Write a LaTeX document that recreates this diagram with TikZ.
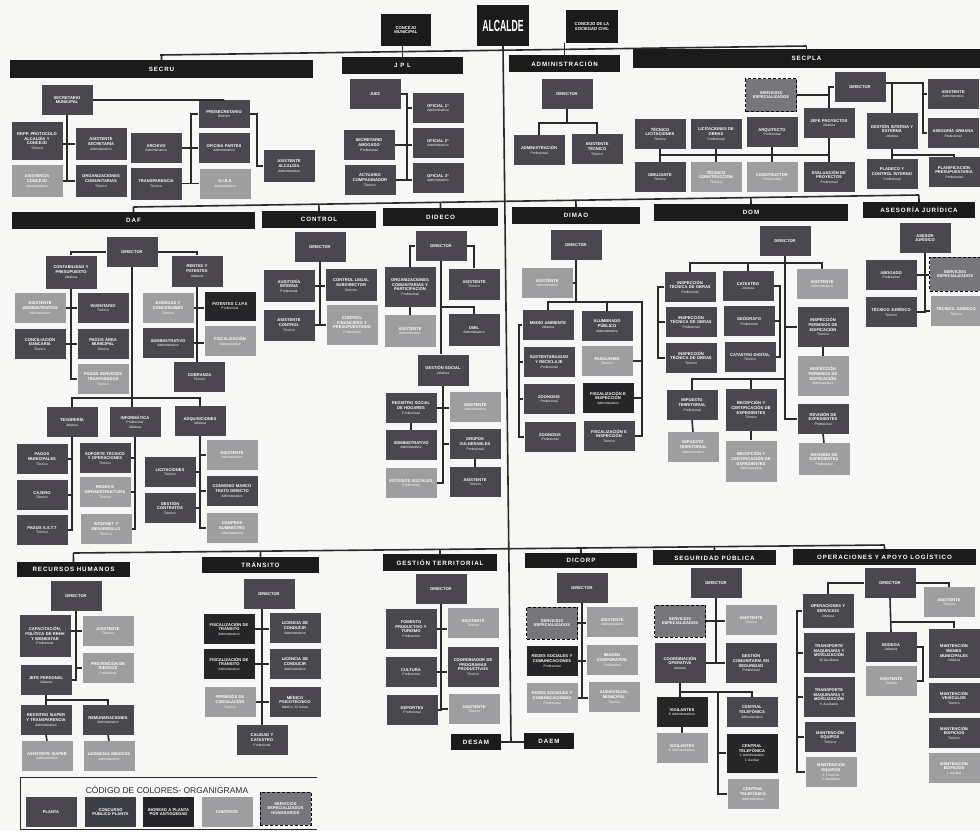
\documentclass[tikz,border=0pt]{standalone}
\usepackage{fontspec}
\setmainfont{Liberation Sans}
\newfontfamily\hdrff[LetterSpace=15]{Liberation Sans}
\usetikzlibrary{calc}
\newcommand{\unitfont}{\fontsize{4.1}{4.7}\selectfont\bfseries}
\newcommand{\rolefont}{\fontsize{3.4}{4.0}\selectfont\mdseries}
\newcommand{\rl}[1]{\\{\rolefont #1}}
\newcommand{\hdrfont}{\hdrff\fontsize{6.2}{6.2}\selectfont\bfseries}
\newcommand{\topfont}{\fontsize{4.2}{4.8}\selectfont\bfseries}
\begin{document}
\begin{tikzpicture}[x=1pt, y=-1pt,
    link/.style={draw=lineC, line width=1.6pt},
    unit/.style={text=white, font=\unitfont, align=center, text width=48, inner sep=1.5, minimum height=30},
    planta/.style={unit, fill=plantaC},
    contrata/.style={unit, fill=contrataC},
    antig/.style={unit, fill=antigC},
    concurso/.style={unit, fill=concursoC},
    honor/.style={unit, fill=honorC, draw=black, densely dashed, line width=0.8pt},
    head/.style={fill=headC, text=white, font=\hdrfont, inner sep=0},
    topbox/.style={fill=headC, text=white, font=\topfont, align=center, inner sep=0}]
    \definecolor{bgC}{HTML}{F7F7F5}
    \definecolor{lineC}{HTML}{2A2A2A}
    \definecolor{headC}{HTML}{1B1B1B}
    \definecolor{plantaC}{HTML}{4A484E}
    \definecolor{contrataC}{HTML}{9E9EA0}
    \definecolor{antigC}{HTML}{262628}
    \definecolor{concursoC}{HTML}{3D3D44}
    \definecolor{honorC}{HTML}{77777B}

    \useasboundingbox (0,0) rectangle (980,831);
    \fill[bgC] (0,0) rectangle (980,831);

    % Top: alcalde and concejos
    \node[topbox, minimum width=52, minimum height=41, font=\bfseries\fontsize{14}{14}\selectfont] (alc) at (503,25.5) {\scalebox{0.62}[1.15]{ALCALDE}};
    \node[topbox, minimum width=50, minimum height=32] (concMun) at (406,30) {CONCEJO\\MUNICIPAL};
    \node[topbox, minimum width=52, minimum height=33] (concSoc) at (592,26.5) {CONCEJO DE LA\\SOCIEDAD CIVIL};

    % Row 1 headers
    \node[head, minimum width=303, minimum height=18] (secruH) at (161.5,69) {SECRU};
    \node[head, minimum width=121, minimum height=17] (jplH) at (402.5,65.5) {J P L};
    \node[head, minimum width=111, minimum height=17] (admH) at (564.5,63.5) {ADMINISTRACIÓN};
    \node[head, minimum width=347, minimum height=19] (secplaH) at (806.5,58.5) {SECPLA};

    % Row 2 headers
    \node[head, minimum width=243, minimum height=17] (dafH) at (133.5,220.5) {DAF};
    \node[head, minimum width=114, minimum height=17] (ctH) at (319,219.5) {CONTROL};
    \node[head, minimum width=115, minimum height=18] (ddH) at (440.5,217) {DIDECO};
    \node[head, minimum width=128, minimum height=17] (dmH) at (576,215.5) {DIMAO};
    \node[head, minimum width=194, minimum height=17] (doH) at (751,212.5) {DOM};
    \node[head, minimum width=112, minimum height=16] (ajH) at (919,210) {ASESORÍA JURÍDICA};

    % Row 3 headers
    \node[head, minimum width=113, minimum height=15] (rhH) at (73.5,569.5) {RECURSOS HUMANOS};
    \node[head, minimum width=117, minimum height=16] (trH) at (260.5,565) {TRÁNSITO};
    \node[head, minimum width=114, minimum height=17] (gtH) at (440,562.5) {GESTIÓN TERRITORIAL};
    \node[head, minimum width=112, minimum height=15] (dcH) at (581,560.5) {DICORP};
    \node[head, minimum width=123, minimum height=15] (sgH) at (714.5,557.5) {SEGURIDAD PÚBLICA};
    \node[head, minimum width=183, minimum height=16] (opH) at (884.5,557) {OPERACIONES Y APOYO LOGÍSTICO};

    % Main lines
    \coordinate (mainEnd) at (511,742);
    \coordinate (busAL) at (160,55);
    \coordinate (busAR) at (806.5,46);
    \coordinate (busBL) at (133.5,207);
    \coordinate (busBR) at (919,195);
    \coordinate (busCL) at (73.5,553);
    \coordinate (busCR) at (884.5,545);
    \draw[link] (alc.south) -- (mainEnd);
    \draw[link] (busAL) -- (busAR);
    \draw[link] (busBL) -- (busBR);
    \draw[link] (busCL) -- (busCR);
    \draw[link] (secruH.north) -- ($(busAL)!(secruH.north)!(busAR)$);
    \draw[link] (jplH.north) -- (jplH.north |- concMun.south);
    \draw[link] (admH.north) -- (admH.north |- concSoc.south);
    \draw[link] (secplaH.north) -- (busAR);
    \foreach \h in {dafH,ctH,ddH,dmH,doH,ajH}
        \draw[link] (\h.north) -- ($(busBL)!(\h.north)!(busBR)$);
    \foreach \h in {rhH,trH,gtH,dcH,sgH,opH}
        \draw[link] (\h.north) -- ($(busCL)!(\h.north)!(busCR)$);

    % SECRU
    \node[planta] (sm) at (67,100) {SECRETARIO\\MUNICIPAL};
    \node[planta, minimum height=38] (rrpp) at (37,141) {RRPP. PROTOCOLO\\ALCALDÍA Y\\CONCEJO\rl{Técnico}};
    \node[planta, minimum height=32] (asec) at (101,144) {ASISTENTE\\SECRETARÍA\rl{Administrativo}};
    \node[contrata, minimum height=32] (acon) at (37,181) {ASISTENCIA\\CONCEJO\rl{Administrativo}};
    \node[planta, minimum height=32] (orgc) at (101,181) {ORGANIZACIONES\\COMUNITARIAS\rl{Técnico}};
    \node[planta] (arch) at (156,148) {ARCHIVO\rl{Administrativo}};
    \node[planta, minimum height=32] (transp) at (156,183.5) {TRANSPARENCIA\rl{Técnico}};
    \node[planta, minimum height=28] (pros) at (224,114) {PROSECRETARIO\rl{Director}};
    \node[planta] (ofp) at (224,148) {OFICINA PARTES\rl{Administrativo}};
    \node[contrata] (oirs) at (225,183.5) {O.I.R.S\rl{Administrativo}};
    \node[planta, minimum height=32] (asal) at (289,166) {ASISTENTE\\ALCALDÍA\rl{Administrativo}};
    \coordinate (prosBus) at (191,114);
    \coordinate (asalBus) at (257,114);
    \draw[link] (sm.east) -| (pros.north);
    \draw[link] (sm.south) -- (sm.south |- acon.east);
    \draw[link] (rrpp.east |- asec.west) -- (asec.west);
    \draw[link] (acon.east) -- (orgc.west);
    \draw[link] (pros.west) -- (prosBus) -- (prosBus |- transp.east);
    \draw[link] (arch.east) -- (ofp.west);
    \draw[link] (transp.east) -- (oirs.west);
    \draw[link] (pros.east) -| (asalBus |- asal.west) -- (asal.west);

    % JPL
    \node[planta] (juez) at (375,94) {JUEZ};
    \node[planta] (of1) at (438,108) {OFICIAL 1º\rl{Administrativo}};
    \node[planta] (of2) at (438,143) {OFICIAL 2º\rl{Administrativo}};
    \node[planta] (of3) at (438,178) {OFICIAL 3º\rl{Administrativo}};
    \node[planta] (secab) at (369,145) {SECRETARIO\\ABOGADO\rl{Profesional}};
    \node[planta] (actu) at (370,180) {ACTUARIO\\COMPAGINADOR\rl{Técnico}};
    \coordinate (jplBus) at (407,94);
    \draw[link] (juez.east) -- (jplBus) -- (jplBus |- actu.east);
    \draw[link] (jplBus |- of1.west) -- (of1.west);
    \draw[link] (secab.east) -- (secab.east -| of2.west);
    \draw[link] (actu.east) -- (actu.east -| of3.west);

    % ADMINISTRACION
    \node[planta] (admDir) at (567,94) {DIRECTOR};
    \node[planta] (admAd) at (539,150) {ADMINISTRACIÓN\rl{Profesional}};
    \node[planta] (admAs) at (597,149) {ASISTENTE\\TÉCNICO\rl{Técnico}};
    \draw[link] (admDir.south) -- ++(0,14) -| (admAd.north);
    \draw[link] (admDir.south) ++(0,14) -| (admAs.north);

    % SECPLA
    \node[planta] (spDir) at (860,87) {DIRECTOR};
    \node[honor, minimum height=33] (spSe) at (771,95) {SERVICIOS\\ESPECIALIZADOS};
    \node[planta] (spAsi) at (953,94) {ASISTENTE\rl{Administrativo}};
    \node[planta] (spAu) at (953,133) {ASESORÍA URBANA\rl{Profesional}};
    \node[planta] (spJp) at (829,123) {JEFE PROYECTOS\rl{Jefatura}};
    \node[planta, minimum height=36] (spGi) at (892,131) {GESTIÓN INTERNA Y\\EXTERNA\rl{Jefatura}};
    \node[planta] (spTl) at (660,134) {TÉCNICO\\LICITACIONES\rl{Técnico}};
    \node[planta] (spLo) at (716,134) {LICITACIONES DE\\OBRAS\rl{Profesional}};
    \node[planta] (spAr) at (772,132) {ARQUITECTO\rl{Profesional}};
    \node[planta] (spDi) at (660,177) {DIBUJANTE\rl{Técnico}};
    \node[contrata] (spTc) at (716,177) {TÉCNICO\\CONSTRUCCIÓN\rl{Técnico}};
    \node[contrata] (spCo) at (772,177) {CONSTRUCTOR\rl{Profesional}};
    \node[planta] (spEv) at (829,177) {EVALUACIÓN DE\\PROYECTOS\rl{Profesional}};
    \node[planta] (spPl) at (892,174) {PLADECO Y\\CONTROL INTERNO\rl{Profesional}};
    \node[planta] (spPp) at (954,172) {PLANIFICACIÓN\\PRESUPUESTARIA\rl{Profesional}};
    \coordinate (spBus) at (0,155);
    \coordinate (spRv) at (923,83);
    \draw[link] (spDir.west) -| (spJp.north);
    \draw[link] (spSe.east) -- (spSe.east -| spJp.north);
    \draw[link] (spDi.north |- spBus) -- (spEv.north |- spBus);
    \draw[link] (spTl.south) -- (spDi.north);
    \draw[link] (spLo.south) -- (spTc.north);
    \draw[link] (spAr.south) -- (spCo.north);
    \draw[link] (spJp.south) -- (spEv.north);
    \draw[link] (spDir.east |- spRv) -- (spRv) -- (spRv |- spAu.west) -- (spAu.west);
    \draw[link] (spRv |- spAsi.west) -- (spAsi.west);
    \draw[link] (spGi.north |- spRv) -- (spGi.north);
    \draw[link] (spGi.south) -- (spPl.north);
    \draw[link] (spPl.north |- spBus) -| (spPp.north);

    % DAF
    \node[planta] (dafDir) at (132,252) {DIRECTOR};
    \node[planta, minimum height=33] (dafCp) at (71,272) {CONTABILIDAD Y\\PRESUPUESTO\rl{Jefatura}};
    \node[planta, minimum height=31] (dafRp) at (197,271) {RENTAS Y\\PATENTES\rl{Jefatura}};
    \node[contrata] (dafAa) at (40,308) {ASISTENTE\\ADMINISTRATIVO\rl{Administrativo}};
    \node[planta] (dafIn) at (103,308) {INVENTARIO\rl{Técnico}};
    \node[planta] (dafCb) at (40,344) {CONCILIACIÓN\\BANCARIA\rl{Técnico}};
    \node[planta] (dafPm) at (103,344) {PAGOS ÁREA\\MUNICIPAL\rl{Técnico}};
    \node[contrata] (dafPs) at (103,379) {PAGOS SERVICIOS\\TRASPASADOS\rl{Técnico}};
    \node[contrata] (dafBc) at (168,308) {BODEGAS Y\\CONCESIONES\rl{Técnico}};
    \node[antig, minimum height=29] (dafPc) at (230,306) {PATENTES C.I.P.A\rl{Profesional}};
    \node[planta] (dafAd) at (168,343) {ADMINISTRATIVO\rl{Administrativo}};
    \node[contrata] (dafFi) at (230,341) {FISCALIZACIÓN\rl{Administrativo}};
    \node[planta] (dafCo) at (199.5,377) {COBRANZA\rl{Técnico}};
    \node[planta] (dafTe) at (72,422) {TESORERÍA\rl{Jefatura}};
    \node[planta] (dafIf) at (135,422) {INFORMÁTICA\rl{Profesional}\rl{Jefatura}};
    \node[planta] (dafAq) at (200,421) {ADQUISICIONES\rl{Jefatura}};
    \node[planta] (dafPg) at (42,459) {PAGOS\\MUNICIPALES\rl{Técnico}};
    \node[planta] (dafCa) at (42,495) {CAJERO\rl{Técnico}};
    \node[planta] (dafPt) at (42,530) {PAGOS S.S.T.T\rl{Técnico}};
    \node[planta] (dafSo) at (105,458) {SOPORTE TÉCNICO\\Y OPERACIONES\rl{Técnico}};
    \node[contrata] (dafRe) at (105,492) {REDES E\\INFRAESTRUCTURA\rl{Técnico}};
    \node[contrata] (dafId) at (106,529) {INTERNET Y\\DESARROLLO\rl{Técnico}};
    \node[planta] (dafLi) at (170,472) {LICITACIONES\rl{Técnico}};
    \node[planta] (dafGc) at (170,508) {GESTIÓN\\CONTRATOS\rl{Técnico}};
    \node[contrata] (dafAs) at (232,455) {ASISTENTE\rl{Administrativo}};
    \node[planta] (dafCm) at (232,491) {CONVENIO MARCO\\TRATO DIRECTO\rl{Administrativo}};
    \node[contrata] (dafCs) at (232,528) {COMPRAS\\SUMINISTRO\rl{Administrativo}};
    \coordinate (dafBus) at (0,398);
    \draw[link] (dafDir.west) -| (dafCp.north);
    \draw[link] (dafDir.east) -| (dafRp.north);
    \draw[link] (dafCp.south) -- (dafCp.south |- dafPs.west) -- (dafPs.west);
    \draw[link] (dafAa.east) -- (dafIn.west);
    \draw[link] (dafCb.east) -- (dafPm.west);
    \draw[link] (dafRp.south) -- (dafRp.south |- dafCo.north);
    \draw[link] (dafBc.east) -- (dafBc.east -| dafPc.west);
    \draw[link] (dafAd.east) -- (dafAd.east -| dafFi.west);
    \draw[link] (dafDir.south) -- (dafDir.south |- dafIf.north);
    \draw[link] (dafTe.north) |- (dafDir.south |- dafBus) -| (dafAq.north);
    \draw[link] (dafTe.south) |- (dafPt.east);
    \draw[link] (dafPg.east) -- (dafPg.east -| dafTe.south);
    \draw[link] (dafCa.east) -- (dafCa.east -| dafTe.south);
    \draw[link] (dafIf.south) |- (dafId.east);
    \draw[link] (dafSo.east) -- (dafSo.east -| dafIf.south);
    \draw[link] (dafRe.east) -- (dafRe.east -| dafIf.south);
    \draw[link] (dafAq.south) -- (dafAq.south |- dafCs.west) -- (dafCs.west);
    \draw[link] (dafLi.east) -- (dafLi.east -| dafAq.south);
    \draw[link] (dafGc.east) -- (dafGc.east -| dafAq.south);
    \draw[link] (dafAq.south |- dafAs.west) -- (dafAs.west);
    \draw[link] (dafAq.south |- dafCm.west) -- (dafCm.west);

    % CONTROL
    \node[planta] (ctDir) at (320,247) {DIRECTOR};
    \node[planta, minimum height=32] (ctAi) at (289,286) {AUDITORÍA\\INTERNA\rl{Profesional}};
    \node[planta, minimum height=32] (ctCl) at (351,285) {CONTROL LEGAL\\SUBDIRECTOR\rl{Director}};
    \node[planta, minimum height=31] (ctAc) at (289,325) {ASISTENTE\\CONTROL\rl{Técnico}};
    \node[contrata, minimum height=40] (ctCf) at (352,325) {CONTROL\\FINANCIERO Y\\PRESUPUESTARIO\rl{Profesional}};
    \draw[link] (ctDir.south) -- (ctDir.south |- ctAc.east);
    \draw[link] (ctAi.east) -- (ctAi.east -| ctCl.west);
    \draw[link] (ctAc.east) -- (ctCf.west);

    % DIDECO
    \node[planta] (ddDir) at (441,246) {DIRECTOR};
    \node[planta, minimum height=40] (ddOc) at (410,287) {ORGANIZACIONES\\COMUNITARIAS Y\\PARTICIPACIÓN\rl{Profesional}};
    \node[planta, minimum height=31] (ddAt) at (474,284) {ASISTENTE\rl{Técnico}};
    \node[contrata, minimum height=32] (ddAa) at (410,331) {ASISTENTE\rl{Administrativo}};
    \node[planta, minimum height=32] (ddOm) at (474,330) {OMIL\rl{Administrativo}};
    \node[planta, minimum height=31] (ddGs) at (443,370) {GESTIÓN SOCIAL\rl{Jefatura}};
    \node[planta] (ddRs) at (411,408) {REGISTRO SOCIAL\\DE HOGARES\rl{Profesional}};
    \node[contrata] (ddAs) at (475,407) {ASISTENTE\rl{Administrativo}};
    \node[planta] (ddAd) at (411,445) {ADMINISTRATIVO\rl{Administrativo}};
    \node[planta] (ddGv) at (475,444) {GRUPOS\\VULNERABLES\rl{Profesional}};
    \node[contrata] (ddEs) at (411,483) {ESTUDIOS SOCIALES\rl{Profesional}};
    \node[planta] (ddAt2) at (475,482) {ASISTENTE\rl{Técnico}};
    \draw[link] (ddDir.west) -| (ddOc.north);
    \draw[link] (ddDir.east) -| (ddAt.north);
    \draw[link] (ddDir.south) -- (ddDir.south |- ddGs.north);
    \draw[link] (ddDir.south |- ddOc.south) -| (ddOm.north);
    \draw[link] (ddOc.south) -- (ddAa.north);
    \draw[link] (ddGs.south) |- (ddEs.east);
    \draw[link] (ddRs.east) -- (ddRs.east -| ddAs.west);
    \draw[link] (ddGs.south |- ddGv.west) -- (ddGv.west);
    \draw[link] (ddRs.south) -- (ddAd.north);
    \draw[link] (ddGv.south) -- (ddAt2.north);

    % DIMAO
    \node[planta] (dmDir) at (576,245) {DIRECTOR};
    \node[contrata] (dmAs) at (547,283) {ASISTENTE\rl{Administrativo}};
    \node[planta] (dmMa) at (548,325) {MEDIO AMBIENTE\rl{Jefatura}};
    \node[planta] (dmAl) at (607,326) {ALUMBRADO\\PÚBLICO\rl{Administrativo}};
    \node[planta] (dmSu) at (549,362) {SUSTENTABILIDAD\\Y RECICLAJE\rl{Profesional}};
    \node[contrata] (dmPa) at (607,361) {PAISAJISMO\rl{Técnico}};
    \node[planta] (dmZ1) at (549,399) {ZOONOSIS\rl{Profesional}};
    \node[antig] (dmFi1) at (608,398) {FISCALIZACIÓN E\\INSPECCIÓN\rl{Administrativo}};
    \node[planta] (dmZ2) at (550,437) {ZOONOSIS\rl{Profesional}};
    \node[planta] (dmFi2) at (609,436) {FISCALIZACIÓN E\\INSPECCIÓN\rl{Técnico}};
    \coordinate (dmBus) at (0,302);
    \coordinate (dmR) at (642,0);
    \coordinate (dmL) at (519,0);
    \draw[link] (dmDir.south) -- (dmDir.south |- dmBus);
    \draw[link] (dmAs.east) -- (dmAs.east -| dmDir.south);
    \draw[link] (dmMa.north) |- (dmR |- dmBus) -- (dmR |- dmFi2.east) -- (dmFi2.east);
    \draw[link] (dmAl.north) -- (dmAl.north |- dmBus);
    \draw[link] (dmR |- dmPa.east) -- (dmPa.east);
    \draw[link] (dmR |- dmFi1.east) -- (dmFi1.east);
    \draw[link] (dmMa.west) -- (dmMa.west -| dmL) -- (dmL |- dmZ2.west) -- (dmZ2.west);
    \draw[link] (dmL |- dmSu.west) -- (dmSu.west);
    \draw[link] (dmL |- dmZ1.west) -- (dmZ1.west);

    % DOM
    \node[planta] (doDir) at (785,241) {DIRECTOR};
    \node[planta] (doIt1) at (690,287) {INSPECCIÓN\\TÉCNICA DE OBRAS\rl{Profesional}};
    \node[planta] (doIt2) at (691,322) {INSPECCIÓN\\TÉCNICA DE OBRAS\rl{Profesional}};
    \node[planta] (doIt3) at (691,358) {INSPECCIÓN\\TÉCNICA DE OBRAS\rl{Técnico}};
    \node[planta] (doCa) at (748,286) {CATASTRO\rl{Jefatura}};
    \node[planta] (doGe) at (749,321) {GEÓGRAFO\rl{Profesional}};
    \node[planta] (doCd) at (750,357) {CATASTRO DIGITAL\rl{Técnico}};
    \node[contrata] (doAs) at (822,284) {ASISTENTE\rl{Administrativo}};
    \node[planta, minimum height=40] (doIp1) at (823,327) {INSPECCIÓN\\PERMISOS DE\\EDIFICACIÓN\rl{Técnico}};
    \node[contrata, minimum height=40] (doIp2) at (823,376) {INSPECCIÓN\\PERMISOS DE\\EDIFICACIÓN\rl{Administrativo}};
    \node[planta] (doRe1) at (823,419) {REVISIÓN DE\\EXPEDIENTES\rl{Profesional}};
    \node[contrata, minimum height=32] (doRe2) at (824,459) {REVISIÓN DE\\EXPEDIENTES\rl{Profesional}};
    \node[planta] (doIm1) at (692,405) {IMPUESTO\\TERRITORIAL\rl{Profesional}};
    \node[contrata] (doIm2) at (693,447) {IMPUESTO\\TERRITORIAL\rl{Administrativo}};
    \node[planta, minimum height=42] (doRc1) at (751,410) {RECEPCIÓN Y\\CERTIFICACIÓN DE\\EXPEDIENTES\rl{Técnico}};
    \node[contrata, minimum height=41] (doRc2) at (751,461) {RECEPCIÓN Y\\CERTIFICACIÓN DE\\EXPEDIENTES\rl{Administrativo}};
    \coordinate (doBusA) at (0,263);
    \coordinate (doBusB) at (0,379);
    \coordinate (doL) at (658,0);
    \coordinate (doR) at (780,0);
    \draw[link] (doDir.south) -- (doDir.south |- doRe1.west) -- (doRe1.west);
    \draw[link] (doIt1.north) |- (doBusA -| doDir.south) -| (doAs.north);
    \draw[link] (doCa.north) -- (doCa.north |- doBusA);
    \draw[link] (doIt1.west) -- (doIt1.west -| doL) -- (doL |- doIt3.west) -- (doIt3.west);
    \draw[link] (doL |- doIt2.west) -- (doIt2.west);
    \draw[link] (doCa.east) -- (doCa.east -| doR) -- (doR |- doCd.east) -- (doCd.east);
    \draw[link] (doGe.east) -- (doGe.east -| doR);
    \draw[link] (doDir.south |- doIp1.west) -- (doIp1.west);
    \draw[link] (doIp1.south) -- (doIp2.north);
    \draw[link] (doRe1.south) -- (doRe2.north);
    \draw[link] (doIm1.north) |- (doBusB -| doDir.south);
    \draw[link] (doRc1.north) -- (doRc1.north |- doBusB);
    \draw[link] (doIm1.south) -- (doIm2.north);
    \draw[link] (doRc1.south) -- (doRc2.north);

    % ASESORIA JURIDICA
    \node[planta] (ajAs) at (925,238) {ASESOR\\JURÍDICO};
    \node[planta] (ajAb) at (891,275) {ABOGADO\rl{Profesional}};
    \node[honor, minimum height=34] (ajSe) at (955,274) {SERVICIOS\\ESPECIALIZADOS};
    \node[planta] (ajTj) at (891,312) {TÉCNICO JURÍDICO\rl{Técnico}};
    \node[contrata] (ajTj2) at (956,311) {TÉCNICO JURÍDICO\rl{Técnico}};
    \draw[link] (ajAs.south) -- (ajAs.south |- ajTj.east) -- (ajTj.east);
    \draw[link] (ajAb.east) -- (ajAb.east -| ajSe.west);
    \draw[link] (ajAs.south |- ajTj2.west) -- (ajTj2.west);

    % RECURSOS HUMANOS
    \node[planta] (rhDir) at (76,596) {DIRECTOR};
    \node[planta, minimum height=42] (rhCa) at (45,636) {CAPACITACIÓN,\\POLÍTICA DE RRHH\\Y BIENESTAR\rl{Profesional}};
    \node[contrata] (rhAs) at (108,631) {ASISTENTE\rl{Técnico}};
    \node[planta] (rhJp) at (46,680) {JEFE PERSONAL\rl{Jefatura}};
    \node[contrata] (rhPr) at (108,668) {PREVENCIÓN DE\\RIESGOS\rl{Profesional}};
    \node[planta] (rhRs) at (46,720) {REGISTRO SIAPER\\Y TRANSPARENCIA\rl{Administrativo}};
    \node[planta] (rhRe) at (108,720) {REMUNERACIONES\rl{Administrativo}};
    \node[contrata] (rhAsi) at (47,756) {ASISTENTE SIAPER\rl{Administrativo}};
    \node[contrata] (rhLm) at (109,756) {LICENCIAS MÉDICAS\rl{Administrativo}};
    \draw[link] (rhDir.south) -- (rhDir.south |- rhJp.east) -- (rhJp.east);
    \draw[link] (rhAs.west) -- (rhAs.west -| rhCa.east);
    \draw[link] (rhDir.south |- rhPr.west) -- (rhPr.west);
    \draw[link] (rhJp.south) -- (rhRs.north);
    \draw[link] (rhJp.south) ++(0,5) -| (rhRe.north);
    \draw[link] (rhRs.south) -- (rhAsi.north);
    \draw[link] (rhRe.south) -- (rhLm.north);

    % TRANSITO
    \node[planta] (trDir) at (269,594) {DIRECTOR};
    \node[antig] (trFi1) at (229,629) {FISCALIZACIÓN DE\\TRÁNSITO\rl{Administrativo}};
    \node[antig] (trFi2) at (229,664) {FISCALIZACIÓN DE\\TRÁNSITO\rl{Administrativo}};
    \node[planta] (trLc1) at (295,628) {LICENCIA DE\\CONDUCIR\rl{Administrativo}};
    \node[planta] (trLc2) at (295,664) {LICENCIA DE\\CONDUCIR\rl{Administrativo}};
    \node[contrata] (trPc) at (230,702) {PERMISOS DE\\CIRCULACIÓN\rl{Técnico}};
    \node[planta] (trMe) at (295,702) {MÉDICO\\PSICOTÉCNICO\rl{Médico 22 horas}};
    \node[planta] (trCc) at (262,740) {CALIDAD Y\\CATASTRO\rl{Profesional}};
    \draw[link] (trCc.north |- trDir.south) -- (trCc.north);
    \draw[link] (trFi1.east) -- (trFi1.east -| trLc1.west);
    \draw[link] (trFi2.east) -- (trLc2.west);
    \draw[link] (trPc.east) -- (trMe.west);

    % GESTION TERRITORIAL
    \node[planta] (gtDir) at (441,589) {DIRECTOR};
    \node[planta, minimum height=40] (gtFo) at (411,629) {FOMENTO\\PRODUCTIVO Y\\TURISMO\rl{Profesional}};
    \node[contrata] (gtAs) at (473,623) {ASISTENTE\rl{Técnico}};
    \node[planta] (gtCu) at (411,672) {CULTURA\rl{Profesional}};
    \node[planta, minimum height=40] (gtCo) at (473,667) {COORDINADOR DE\\PROGRAMAS\\PRODUCTIVOS\rl{Técnico}};
    \node[planta] (gtDe) at (412,710) {DEPORTES\rl{Profesional}};
    \node[contrata] (gtAs2) at (474,709) {ASISTENTE\rl{Técnico}};
    \draw[link] (gtDir.south) -- (gtDir.south |- gtDe.east) -- (gtDe.east);
    \draw[link] (gtFo.east) -- (gtFo.east -| gtAs.west);
    \draw[link] (gtCu.east) -- (gtCu.east -| gtCo.west);
    \draw[link] (gtDir.south |- gtAs2.west) -- (gtAs2.west);

    % DICORP
    \node[planta] (dcDir) at (582,588) {DIRECTOR};
    \node[honor, minimum height=32] (dcSe) at (552,623) {SERVICIOS\\ESPECIALIZADOS};
    \node[contrata] (dcAs) at (612,622) {ASISTENTE\rl{Administrativo}};
    \node[antig] (dcRs) at (552,661) {REDES SOCIALES Y\\COMUNICACIONES\rl{Profesional}};
    \node[contrata] (dcIc) at (612,660) {IMAGEN\\CORPORATIVA\rl{Profesional}};
    \node[contrata] (dcRs2) at (552,698) {REDES SOCIALES Y\\COMUNICACIONES\rl{Profesional}};
    \node[contrata] (dcAu) at (614,697) {AUDIOVISUAL\\MUNICIPAL\rl{Técnico}};
    \draw[link] (dcDir.south) -- (dcDir.south |- dcRs2.east);
    \draw[link] (dcSe.east) -- (dcSe.east -| dcAs.west);
    \draw[link] (dcRs.east) -- (dcRs.east -| dcIc.west);
    \draw[link] (dcRs2.east) -- (dcRs2.east -| dcAu.west);

    % DESAM and DAEM
    \node[head, minimum width=50, minimum height=16] (desam) at (476,742) {DESAM};
    \node[head, minimum width=50, minimum height=16] (daem) at (549,741) {DAEM};
    \draw[link] (desam.east) -- (desam.east -| daem.west);

    % SEGURIDAD PUBLICA
    \node[planta] (sgDir) at (716,583) {DIRECTOR};
    \node[honor, minimum height=32] (sgSe) at (680,621) {SERVICIOS\\ESPECIALIZADOS};
    \node[contrata] (sgAs) at (751,620) {ASISTENTE\rl{Técnico}};
    \node[planta, minimum height=40] (sgCo) at (680,663) {COORDINACIÓN\\OPERATIVA\rl{Jefatura}};
    \node[planta, minimum height=40] (sgGc) at (751,663) {GESTIÓN\\COMUNITARIA EN\\SEGURIDAD\rl{Profesional}};
    \node[antig] (sgVi1) at (682,712) {VIGILANTES\rl{6 Administrativos}};
    \node[contrata] (sgVi2) at (682,748) {VIGILANTES\rl{8 Administrativos}};
    \node[planta] (sgCt1) at (752,712) {CENTRAL\\TELEFÓNICA\rl{Administrativo}};
    \node[antig, minimum height=39] (sgCt2) at (752,753) {CENTRAL\\TELEFÓNICA\rl{1 Administrativo}\rl{1 Auxiliar}};
    \node[contrata] (sgCt3) at (753,794) {CENTRAL\\TELEFÓNICA\rl{Administrativo}};
    \coordinate (sgV) at (718,0);
    \draw[link] (sgDir.south) -- (sgDir.south |- sgCo.east);
    \draw[link] (sgSe.east) -- (sgSe.east -| sgAs.west);
    \draw[link] (sgCo.east) -- (sgGc.west);
    \draw[link] (sgCo.south) -- (sgCo.south |- sgVi1.north);
    \draw[link] (sgCo.south) ++(0,9) coordinate (sgBus) -| (sgCt1.north);
    \draw[link] (sgBus -| sgV) -- (sgV |- sgCt3.west) -- (sgCt3.west);
    \draw[link] (sgV |- sgCt2.west) -- (sgCt2.west);
    \draw[link] (sgVi1.south) -- (sgVi1.south |- sgVi2.north);

    % OPERACIONES Y APOYO LOGISTICO
    \node[planta] (opDir) at (890,583) {DIRECTOR};
    \node[contrata] (opAs) at (949,602) {ASISTENTE\rl{Técnico}};
    \node[planta, minimum height=34] (opOs) at (828,611) {OPERACIONES Y\\SERVICIOS\rl{Jefatura}};
    \node[planta, minimum height=40] (opTm1) at (829,653) {TRANSPORTE\\MAQUINARIA Y\\MOVILIZACIÓN\rl{10 Auxiliares}};
    \node[planta, minimum height=40] (opTm2) at (829,697) {TRANSPORTE\\MAQUINARIA Y\\MOVILIZACIÓN\rl{6 Auxiliares}};
    \node[planta] (opMg) at (830,737) {MANTENCIÓN\\EQUIPOS\rl{Técnico}};
    \node[contrata] (opMg2) at (831,772) {MANTENCIÓN\\EQUIPOS\rl{2 Técnicos}\rl{2 Auxiliares}};
    \node[planta] (opBo) at (891,647) {BODEGA\rl{Jefatura}};
    \node[contrata] (opAs2) at (891,681) {ASISTENTE\rl{Técnico}};
    \node[planta, minimum height=49] (opMb) at (954,653) {MANTENCIÓN\\BIENES\\MUNICIPALES\rl{Jefatura}};
    \node[planta] (opMv) at (954,698) {MANTENCIÓN\\VEHÍCULOS\rl{Técnico}};
    \node[planta] (opMe) at (954,733) {MANTENCIÓN\\EDIFICIOS\rl{Técnico}};
    \node[contrata] (opMe2) at (954,768) {MANTENCIÓN\\EDIFICIOS\rl{1 Auxiliar}};
    \coordinate (opL) at (797,0);
    \coordinate (opR) at (923,0);
    \draw[link] (opDir.west) -| (opOs.north);
    \draw[link] (opDir.east) -| (opAs.north);
    \draw[link] (opDir.south) -- (opBo.north);
    \draw[link] (opDir.south) ++(0,24) -| (opMb.north);
    \draw[link] (opOs.west) -- (opOs.west -| opL) -- (opL |- opMg2.west) -- (opMg2.west);
    \foreach \n in {opTm1,opTm2,opMg}
        \draw[link] (opL |- \n.west) -- (\n.west);
    \draw[link] (opBo.east) -- (opBo.east -| opR) -- (opR |- opAs2.east) -- (opAs2.east);

    % Legend
    \draw[lineC, line width=0.8pt] (317,777) -- (20,777) -- (20,829) -- (317,829);
    \node[text=lineC, font=\fontsize{8.5}{9}\selectfont] (lgTitle) at (167,790) {CÓDIGO DE COLORES- ORGANIGRAMA};
    \node[planta] (lgPlanta) at (51,812) {PLANTA};
    \node[concurso] (lgConcurso) at (110.5,812) {CONCURSO\\PÚBLICO PLANTA};
    \node[antig] (lgAntig) at (168.5,812) {INGRESO A PLANTA\\POR ANTIGÜEDAD};
    \node[contrata] (lgContrata) at (227,812) {CONTRATA};
    \node[honor, minimum height=33] (lgHonor) at (285.5,808.5) {SERVICIOS\\ESPECIALIZADOS\\HONORARIOS};

\end{tikzpicture}
\end{document}
